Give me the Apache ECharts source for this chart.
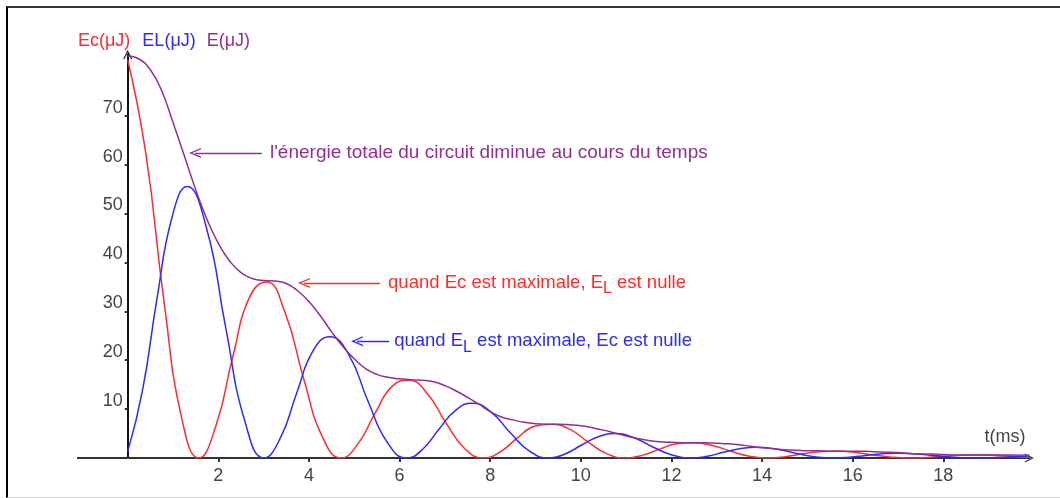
<!DOCTYPE html>
<html>
<head>
<meta charset="utf-8">
<script src="https://cdn.jsdelivr.net/npm/echarts@6/dist/echarts.min.js"></script>
<style>
  html, body { margin: 0; padding: 0; background: #fff; }
  #chart { width: 1060px; height: 498px; }
  #frame { position: absolute; left: 6px; top: 6px; width: 1100px; height: 489px;
           border-left: 2px solid #000; border-top: 2px solid #333; border-bottom: 1px solid #ccc;
           pointer-events: none; }
</style>
</head>
<body>
<div id="chart"></div>
<div id="frame"></div>
<script>
// Ec (µJ) - énergie du condensateur
const ecTimes = [0, 0.4, 0.8, 1.2, 1.57, 1.95, 2.32, 2.7, 3.06, 3.47, 3.89, 4.3, 4.71,
  5.09, 5.46, 5.84, 6.2, 6.61, 7.03, 7.44, 7.85, 8.23, 8.6, 8.98, 9.34, 9.75, 10.17, 10.58, 11.0,
  11.37, 11.74, 12.12, 12.48, 12.89, 13.31, 13.72, 14.14, 14.51, 14.88, 15.26, 15.62, 16.03, 16.45, 16.86, 17.28,
  17.65, 18.02, 18.4, 18.76, 19.17, 19.6, 19.9];
const ecValues = [81.4, 62.3, 32.1, 7.8, 0, 6.7, 20.7, 33.1, 36.0, 29.8, 16.0, 4.3, 0,
  3.0, 9.2, 14.7, 15.9, 13.2, 7.1, 1.9, 0, 1.3, 4.1, 6.5, 6.9, 5.9, 3.2, 0.85, 0,
  0.59, 1.82, 2.9, 3.1, 2.6, 1.4, 0.38, 0, 0.26, 0.81, 1.29, 1.42, 1.17, 0.63, 0.17, 0,
  0.12, 0.36, 0.57, 0.63, 0.52, 0.28, 0.12];

// EL (µJ) - énergie de la bobine
const elTimes = [0, 0.33, 0.65, 0.98, 1.31, 1.74, 2.16, 2.59, 3.01, 3.37, 3.73, 4.09, 4.46,
  4.88, 5.3, 5.73, 6.16, 6.51, 6.87, 7.23, 7.6, 8.02, 8.44, 8.87, 9.3, 9.65, 10.01, 10.37, 10.74,
  11.16, 11.58, 12.01, 12.44, 12.79, 13.15, 13.51, 13.88, 14.3, 14.72, 15.15, 15.58, 15.93, 16.29, 16.65, 17.02,
  17.44, 17.86, 18.29, 18.72, 19.07, 19.43, 19.79, 19.9];
const elValues = [1.3, 14.0, 32.8, 49.3, 55.5, 47.0, 26.8, 7.4, 0, 4.1, 13.3, 21.9, 24.8,
  21.1, 11.7, 3.2, 0, 1.8, 5.9, 9.7, 11.2, 9.4, 5.2, 1.4, 0, 0.81, 2.6, 4.3, 5.0,
  4.2, 2.3, 0.63, 0, 0.36, 1.17, 1.9, 2.2, 1.86, 1.03, 0.28, 0, 0.16, 0.52, 0.85, 0.99,
  0.83, 0.46, 0.12, 0, 0.07, 0.23, 0.37, 0.41];

// E (µJ) - énergie totale
const eTimes = [0, 0.25, 0.5, 0.75, 1, 1.25, 1.5, 1.75, 2, 2.25, 2.5, 2.75, 3, 3.25, 3.5, 3.75,
  4, 4.25, 4.5, 4.75, 5, 5.25, 5.5, 5.75, 6, 6.25, 6.5, 6.75, 7, 7.25, 7.5, 7.75,
  8, 8.25, 8.5, 8.75, 9, 9.25, 9.5, 9.75, 10, 10.25, 10.5, 10.75, 11, 11.25, 11.5, 11.75,
  12, 12.25, 12.5, 12.75, 13, 13.25, 13.5, 13.75, 14, 14.25, 14.5, 14.75, 15, 15.25, 15.5, 15.75,
  16, 16.25, 16.5, 16.75, 17, 17.25, 17.5, 17.75, 18, 18.25, 18.5, 18.75, 19, 19.25, 19.5, 19.9];
const eValues = [82.2, 81.6, 79.4, 75.1, 68.6, 61.8, 54.9, 48.8, 43.9, 40.3, 37.9, 36.7, 36.3, 36.2, 35.7, 34.2,
  32.0, 29.1, 25.8, 22.8, 20.3, 18.3, 17.1, 16.5, 16.2, 16.0, 15.9, 15.6, 14.8, 13.7, 12.4, 11.0,
  9.5, 8.4, 7.8, 7.3, 7.0, 6.9, 6.9, 6.8, 6.6, 6.2, 5.7, 5.1, 4.5, 4.0, 3.6, 3.3,
  3.2, 3.1, 3.1, 3.1, 3.0, 2.9, 2.7, 2.4, 2.1, 1.9, 1.7, 1.6, 1.5, 1.5, 1.4, 1.4,
  1.4, 1.4, 1.3, 1.2, 1.1, 0.9, 0.8, 0.8, 0.7, 0.6, 0.6, 0.6, 0.6, 0.6, 0.6, 0.55];

const xTicks = [2, 4, 6, 8, 10, 12, 14, 16, 18];
const yTicks = [10, 20, 30, 40, 50, 60, 70];

const RED = '#ff2b2b', BLUE = '#2b2bff', PURPLE = '#922f92';
const FONT = '"Liberation Sans", Arial, sans-serif';
const chevron = 'path://M0,10L5,0L10,10L8.6,10L5,2.8L1.4,10Z';

function pairs(ts, vals) { return ts.map((t, i) => [t, vals[i]]); }

function annot(color, from, to, text, size, gap, rich) {
  return {
    silent: true,
    animation: false,
    symbol: [chevron, 'none'],
    symbolSize: [10, 12],
    lineStyle: { color: color, width: 1.3, type: 'solid' },
    label: {
      show: true, position: 'end', distance: gap,
      formatter: text,
      color: color, fontSize: size, fontFamily: FONT,
      rich: rich
    },
    emphasis: { disabled: true },
    data: [[{ coord: from }, { coord: to }]]
  };
}

const subRich = (color) => ({
  a: { color: color, fontSize: 18.5, fontFamily: FONT },
  s: { color: color, fontSize: 16, fontFamily: FONT, padding: [12, 0, 0, 0] }
});

var myChart = echarts.init(document.getElementById('chart'));
myChart.setOption({
  animation: false,
  title: {
    text: '{r|Ec(μJ)}{b|EL(μJ)}{p|E(μJ)}',
    left: 78, top: 32, padding: 0,
    textStyle: {
      fontSize: 18, fontWeight: 'normal', fontFamily: FONT,
      rich: {
        r: { color: RED, fontSize: 18, fontFamily: FONT, padding: [0, 12, 0, 0] },
        b: { color: BLUE, fontSize: 18, fontFamily: FONT, padding: [0, 11, 0, 0] },
        p: { color: PURPLE, fontSize: 18, fontFamily: FONT }
      }
    }
  },
  grid: { left: 127.7, top: 54.6, width: 901.7, height: 403.4 },
  // prolongement de l'axe des temps à gauche de l'origine
  graphic: [{
    type: 'line', silent: true,
    shape: { x1: 77, y1: 458, x2: 128, y2: 458 },
    style: { stroke: '#333', lineWidth: 2 }
  }],
  xAxis: {
    type: 'value', min: 0, max: 19.9,
    name: 't(ms)', nameLocation: 'end', nameGap: -45,
    nameTextStyle: { color: '#444', fontSize: 18, fontFamily: FONT, verticalAlign: 'bottom', padding: [0, 0, 12, 0] },
    axisLine: { symbol: ['none', chevron], symbolSize: [9, 11], lineStyle: { color: '#333', width: 2 } },
    axisTick: { customValues: xTicks, length: 4, lineStyle: { color: '#333', width: 2 } },
    axisLabel: { customValues: xTicks, color: '#444', fontSize: 18, fontFamily: FONT, margin: 9 },
    splitLine: { show: false }
  },
  yAxis: {
    type: 'value', min: 0, max: 82.5,
    axisLine: { show: true, symbol: ['none', chevron], symbolSize: [9, 11], lineStyle: { color: '#111', width: 2 } },
    axisTick: { show: true, customValues: yTicks, length: 3, lineStyle: { color: '#333', width: 2 } },
    axisLabel: { customValues: yTicks, color: '#444', fontSize: 18, fontFamily: FONT, margin: 5,
                 verticalAlign: 'bottom', lineHeight: 16 },
    splitLine: { show: false }
  },
  series: [
    {
      name: 'Ec', type: 'line', data: pairs(ecTimes, ecValues), showSymbol: false, smooth: true,
      lineStyle: { color: RED, width: 1.5 }, itemStyle: { color: RED },
      markLine: annot(RED, [3.89, 35.8], [5.57, 35.8],
        '{a|quand Ec est maximale, E}{s|L}{a| est nulle}', 18.5, 8, subRich(RED))
    },
    {
      name: 'EL', type: 'line', data: pairs(elTimes, elValues), showSymbol: false, smooth: true,
      lineStyle: { color: BLUE, width: 1.5 }, itemStyle: { color: BLUE },
      markLine: annot(BLUE, [5.06, 23.9], [5.77, 23.9],
        '{a|quand E}{s|L}{a| est maximale, Ec est nulle}', 18.5, 5, subRich(BLUE))
    },
    {
      name: 'E', type: 'line', data: pairs(eTimes, eValues), showSymbol: false, smooth: true,
      lineStyle: { color: PURPLE, width: 1.5 }, itemStyle: { color: PURPLE },
      markLine: annot(PURPLE, [1.485, 62.4], [2.964, 62.4],
        "l'énergie totale du circuit diminue au cours du temps", 19, 8, null)
    }
  ]
});
</script>
</body>
</html>
